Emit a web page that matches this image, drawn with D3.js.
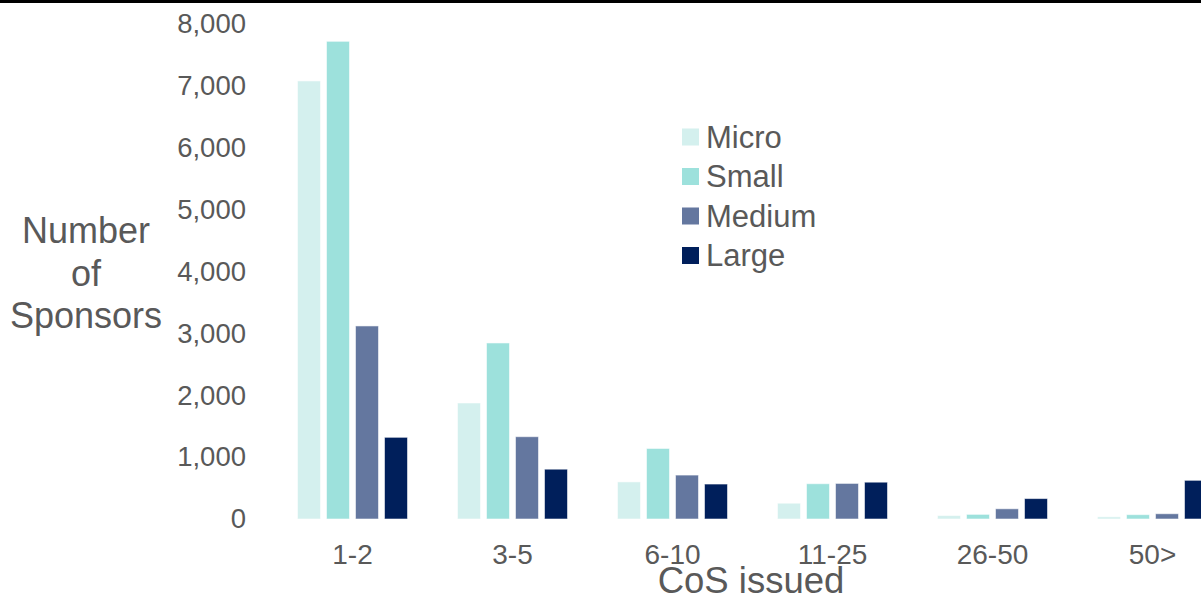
<!DOCTYPE html>
<html>
<head>
<meta charset="utf-8">
<script src="https://cdn.jsdelivr.net/npm/d3@7"></script>
<style>
  body { margin: 0; background: #fff; }
  svg { display: block; font-family: "Liberation Sans", Arial, sans-serif; }
</style>
</head>
<body>
<svg id="chart" width="1201" height="601"></svg>
<script>
// data
var categories = ["1-2", "3-5", "6-10", "11-25", "26-50", "50>"];
var seriesNames = ["Micro", "Small", "Medium", "Large"];
var micro  = [7080, 1875, 600, 255, 55, 35];
var small  = [7720, 2845, 1140, 570, 75, 70];
var medium = [3120, 1330, 710, 575, 165, 85];
var large  = [1320, 805, 565, 595, 330, 625];
var yTicks = [0, 1000, 2000, 3000, 4000, 5000, 6000, 7000, 8000];
var colors = ["#d4f0ee", "#9de1dc", "#64779f", "#001f5b"];

var seriesValues = [micro, small, medium, large];
var textColor = "#595959";

var svg = d3.select("#chart");

// top border line
svg.append("line")
  .attr("x1", 0).attr("x2", 1201)
  .attr("y1", 1.5).attr("y2", 1.5)
  .attr("stroke", "#000")
  .attr("stroke-width", 3);

var x0 = d3.scaleBand()
  .domain(categories)
  .range([272.5, 1232.5])
  .paddingInner(0.3125)
  .paddingOuter(0.15625);

var x1 = d3.scaleBand()
  .domain(seriesNames)
  .range([0, x0.bandwidth()])
  .paddingInner(6 / 29);

var y = d3.scaleLinear()
  .domain([0, 8000])
  .range([519, 24]);

var z = d3.scaleOrdinal().domain(seriesNames).range(colors);

// y axis labels (no line, no ticks)
var yAxis = svg.append("g")
  .attr("transform", "translate(258,0)")
  .call(d3.axisLeft(y).tickValues(yTicks).tickSize(0).tickPadding(12).tickFormat(d3.format(",")));
yAxis.select(".domain").remove();
yAxis.selectAll("text")
  .attr("fill", textColor)
  .style("font-size", "27.5px")
  .style("font-family", "'Liberation Sans', Arial, sans-serif");

// x axis labels
var xAxis = svg.append("g")
  .attr("transform", "translate(0,519)")
  .call(d3.axisBottom(x0).tickSize(0).tickPadding(25));
xAxis.select(".domain").remove();
xAxis.selectAll("text")
  .attr("fill", textColor)
  .style("font-size", "28px")
  .style("font-family", "'Liberation Sans', Arial, sans-serif");

// bars
var rows = categories.map(function(c, i) {
  return {
    cat: c,
    values: seriesNames.map(function(s, j) { return {key: s, value: seriesValues[j][i]}; })
  };
});

var group = svg.selectAll(".grp")
  .data(rows)
  .enter().append("g")
    .attr("class", "grp")
    .attr("transform", function(d) { return "translate(" + x0(d.cat) + ",0)"; });

group.selectAll("rect")
  .data(function(d) { return d.values; })
  .enter().append("rect")
    .attr("x", function(d) { return x1(d.key); })
    .attr("y", function(d) { return y(d.value); })
    .attr("width", x1.bandwidth())
    .attr("height", function(d) { return y(0) - y(d.value); })
    .attr("fill", function(d) { return z(d.key); })
    .attr("stroke", "rgba(255,255,255,0.55)")
    .attr("stroke-width", 1);

// legend
var legend = svg.append("g").attr("transform", "translate(682,137)");
var item = legend.selectAll(".item")
  .data(seriesNames)
  .enter().append("g")
    .attr("class", "item")
    .attr("transform", function(d, i) { return "translate(0," + (i * 39.5) + ")"; });
item.append("rect")
  .attr("x", 0).attr("y", -8.5)
  .attr("width", 17).attr("height", 17)
  .attr("fill", function(d) { return z(d); });
item.append("text")
  .attr("x", 24)
  .attr("dy", "0.35em")
  .attr("fill", textColor)
  .style("font-size", "31px")
  .text(function(d) { return d; });

// axis titles
var yTitle = svg.append("text")
  .attr("text-anchor", "middle")
  .attr("fill", textColor)
  .style("font-size", "36px");
["Number", "of", "Sponsors"].forEach(function(t, i) {
  yTitle.append("tspan").attr("x", 86).attr("y", 243 + i * 42.7).text(t);
});

svg.append("text")
  .attr("x", 751)
  .attr("y", 593)
  .attr("text-anchor", "middle")
  .attr("fill", textColor)
  .style("font-size", "36.5px")
  .text("CoS issued");
</script>
</body>
</html>
